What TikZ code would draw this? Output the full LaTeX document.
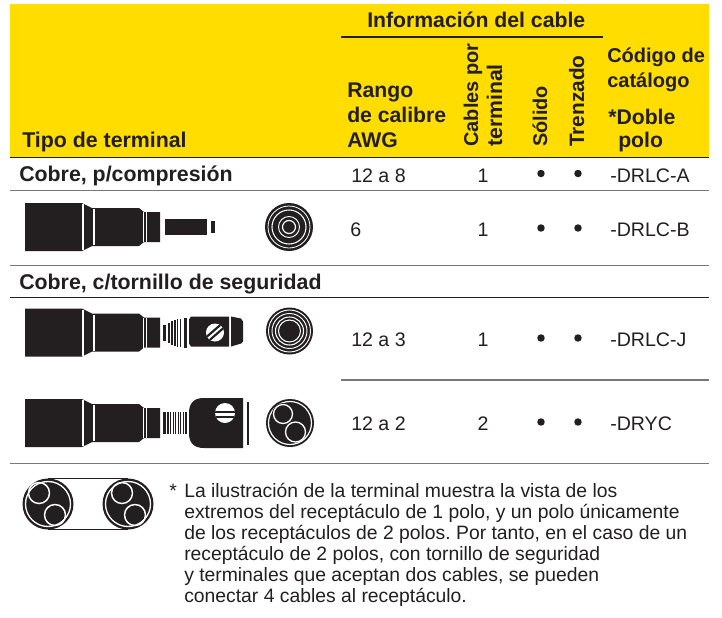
\documentclass[tikz,border=0pt]{standalone}
\usepackage{fontspec}
\setmainfont{Liberation Sans}
\definecolor{ink}{HTML}{231F20}
\definecolor{band}{HTML}{FFDD00}
\definecolor{rule}{HTML}{777777}
\newcommand{\hs}[1]{\fontsize{#1pt}{18pt}\selectfont\bfseries}
\newcommand{\dt}{\fontsize{14.7pt}{16pt}\selectfont}
\newcommand{\nt}{\fontsize{14.5pt}{16pt}\selectfont\frenchspacing}
\tikzset{
 hd/.style={anchor=base west,inner sep=0pt,text=ink,font=\hs{15.9}},
 hdn/.style={anchor=base west,inner sep=0pt,text=ink,font=\hs{15}},
 hdv/.style={anchor=base west,inner sep=0pt,text=ink,rotate=90},
 dat/.style={anchor=base,inner sep=0pt,text=ink,font=\dt},
 datl/.style={anchor=base west,inner sep=0pt,text=ink,font=\dt},
 note/.style={anchor=base west,inner sep=0pt,text=ink,font=\nt},
 dark rule/.style={draw=ink,line width=0.8pt},
 row rule/.style={draw=rule,line width=0.9pt},
 bullet dot/.style={circle,fill=ink,inner sep=0pt,minimum size=5.6pt}
}
% common connector body, centred on y=0
\newcommand{\cbody}{%
 \fill[ink] (25,-24) -- (82,-24) -- (92,-19) -- (139,-19) -- (144,-15) -- (160,-15) -- (160,15) -- (144,15) -- (139,19) -- (92,19) -- (82,24) -- (25,24) -- cycle;
 \draw[white,line width=1pt] (83,-23) -- (83,23);
 \draw[white,line width=1pt] (94,-18) -- (94,18);
 \draw[white,line width=0.6pt] (143,-15) -- (143,15);
 \draw[white,line width=0.6pt] (146,-15) -- (146,15);
}
\begin{document}
\begin{tikzpicture}[x=0.75pt,y=-0.75pt]
\useasboundingbox (0,0) rectangle (722,618);
\fill[white] (0,0) rectangle (722,618);
\fill[band] (10,4) rectangle (709,157);
% header rules
\draw[dark rule] (341,37) -- (603,37);
\draw[dark rule] (10,157.5) -- (709,157.5);
\draw[row rule] (10,190.5) -- (709,190.5);
\draw[row rule] (10,265.5) -- (709,265.5);
\draw[dark rule] (10,297.5) -- (709,297.5);
\draw[row rule] (341,380) -- (709,380);
\draw[row rule] (10,463.5) -- (709,463.5);
% header texts
\node[hd] (info) at (367,27) {Información del cable};
\node[hd,font=\hs{16}] (tipo) at (22,147) {Tipo de terminal};
\node[hd] (r1) at (347,97) {Rango};
\node[hd] (r2) at (347,122) {de calibre};
\node[hd] (r3) at (347,147) {AWG};
\node[hdv,font=\hs{15}] (v1) at (478,147) {Cables por};
\node[hdv,font=\hs{15.9}] (v2) at (502,147) {terminal};
\node[hdv,font=\hs{14.9}] (v3) at (547,147) {Sólido};
\node[hdv,font=\hs{15.6}] (v4) at (584,147) {Trenzado};
\node[hdn] (c1) at (607,62) {Código de};
\node[hdn] (c2) at (607,87) {catálogo};
\node[hd] (c3) at (608,124) {*Doble};
\node[hd] (c4) at (618,147) {polo};
% section labels
\node[hd,font=\hs{16}] (s1) at (19,181) {Cobre, p/compresión};
\node[hd,font=\hs{16}] (s2) at (19,289) {Cobre, c/tornillo de seguridad};
% rows
\node[datl] (a1) at (351,182) {12 a 8};
\node[dat] (a2) at (483,182) {1};
\node[bullet dot] (a3) at (541,173.5) {};
\node[bullet dot] (a4) at (578,173.5) {};
\node[datl] (a5) at (610,182) {-DRLC-A};
\node[datl] (b1) at (350,236) {6};
\node[dat] (b2) at (483,236) {1};
\node[bullet dot] (b3) at (541,228) {};
\node[bullet dot] (b4) at (578,228) {};
\node[datl] (b5) at (610,236) {-DRLC-B};
\node[datl] (d1) at (351,346) {12 a 3};
\node[dat] (d2) at (483,346) {1};
\node[bullet dot] (d3) at (541,338) {};
\node[bullet dot] (d4) at (578,338) {};
\node[datl] (d5) at (610,346) {-DRLC-J};
\node[datl] (e1) at (351,430) {12 a 2};
\node[dat] (e2) at (483,430) {2};
\node[bullet dot] (e3) at (541,422) {};
\node[bullet dot] (e4) at (578,422) {};
\node[datl] (e5) at (610,430) {-DRYC};
% note
\node[note] (star) at (169,497) {*};
\node[note] (n1) at (184,497) {La ilustración de la terminal muestra la vista de los};
\node[note] (n2) at (184,518) {extremos del receptáculo de 1 polo, y un polo únicamente};
\node[note] (n3) at (184,539) {de los receptáculos de 2 polos. Por tanto, en el caso de un};
\node[note] (n4) at (184,560) {receptáculo de 2 polos, con tornillo de seguridad};
\node[note] (n5) at (184,581) {y terminales que aceptan dos cables, se pueden};
\node[note] (n6) at (184,602) {conectar 4 cables al receptáculo.};
% connector 1
\begin{scope}[yshift=-170.25pt]
\cbody
\fill[ink] (165,-8) rectangle (207,8);
\fill[ink] (211,-6) rectangle (215,6);
\end{scope}
\fill[ink] (289,227) circle (24);
\draw[white,line width=0.6pt] (289,227) circle (21);
\draw[white,line width=0.8pt] (289,227) circle (17);
\draw[white,line width=0.7pt] (289,227) circle (10.5);
\draw[white,line width=0.9pt] (289,227) circle (6.5);
% connector 2
\begin{scope}[yshift=-249.4pt]
\cbody
\fill[ink] (163,-8) rectangle (166,8);
\fill[ink] (167.5,-10) rectangle (169.5,10);
\fill[ink] (171,-12) rectangle (172.5,12);
\fill[ink] (174,-13) rectangle (175.5,13);
\fill[ink] (177,-14) rectangle (178,14);
\fill[ink] (179.5,-14) rectangle (181,14);
\fill[ink] (183.5,-15) rectangle (186.5,15);
\fill[ink] (189,-13) -- (191,-16) -- (229,-16) -- (229,14) -- (191,14) -- (189,11) -- cycle;
\fill[ink] (231,-16) -- (241,-14) -- (243,-11) -- (243,9) -- (241,11) -- (231,14) -- cycle;
\fill[white] (215,0) circle (9);
\begin{scope}
\clip (215,0) circle (9);
\draw[ink,line width=1.6pt] (207,4) -- (222,-9);
\draw[ink,line width=1.6pt] (208,9) -- (224,-5);
\end{scope}
\end{scope}
\fill[ink] (289.5,331) circle (23.5);
\foreach \r/\w in {21/0.7,17.5/0.7,14/0.8,11/0.8}
  \draw[white,line width=\w pt] (289.5,331) circle (\r);
% connector 3
\begin{scope}[yshift=-317.25pt]
\cbody
\foreach \xa/\xb in {163/165.5,167/168.5,170/171,172.5/173.5,175/176,177.5/178.5,180/181,182.5/183.5,185/186.5}
  \fill[ink] (\xa,-11) rectangle (\xb,11);
\fill[ink] (189,-10) .. controls (189,-19) and (193,-25) .. (204,-25) -- (243,-25) -- (243,25) -- (204,25) .. controls (193,25) and (189,19) .. (189,10) -- cycle;
\fill[ink] (246.5,-21) rectangle (248.5,22);
\fill[white] (225,-10) circle (10);
\begin{scope}
\clip (225,-10) circle (10);
\fill[ink] (214,-12.5) rectangle (236,-10.5);
\fill[ink] (214,-7.5) rectangle (236,-5.5);
\end{scope}
\end{scope}
\fill[ink] (290,423) circle (24);
\draw[white,line width=0.9pt] (290,423) circle (21.5);
\fill[ink] (283,414) circle (11);
\draw[white,line width=1pt] (283,414) circle (9.5);
\draw[white,line width=1pt] (295.5,432) circle (10);
% footnote icon
\draw[ink,line width=0.7pt] (48,478.5) -- (128,478.5);
\draw[ink,line width=0.7pt] (48,529) -- (128,529);
\foreach \cx/\ax/\bx in {48/39/55,128/122/135}{
 \fill[ink] (\cx,504) circle (25.5);
 \draw[white,line width=1pt] (\cx,504) circle (22.5);
 \draw[white,line width=1.1pt] (\ax,493) circle (10.5);
 \draw[white,line width=1.1pt] (\bx,515) circle (10.5);
}
\end{tikzpicture}
\end{document}
